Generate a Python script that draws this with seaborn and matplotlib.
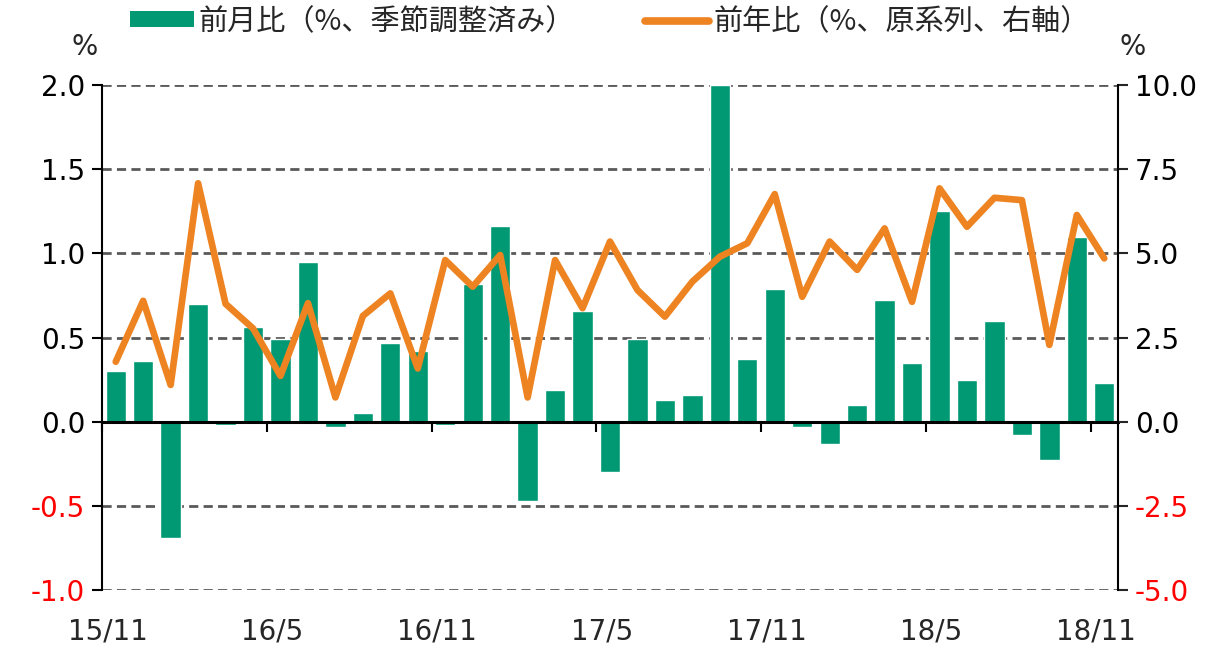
import matplotlib
matplotlib.use("Agg")
import matplotlib.pyplot as plt
from matplotlib.lines import Line2D
from matplotlib.patches import Patch
import pandas as pd
import seaborn as sns

# 月次データ（15/11〜18/11）
MONTHS = [
    "15/11", "15/12", "16/1", "16/2", "16/3", "16/4", "16/5", "16/6", "16/7",
    "16/8", "16/9", "16/10", "16/11", "16/12", "17/1", "17/2", "17/3", "17/4",
    "17/5", "17/6", "17/7", "17/8", "17/9", "17/10", "17/11", "17/12", "18/1",
    "18/2", "18/3", "18/4", "18/5", "18/6", "18/7", "18/8", "18/9", "18/10",
    "18/11",
]
# 前月比（%、季節調整済み）
MOM = [
    0.30, 0.36, -0.69, 0.70, -0.02, 0.56, 0.49, 0.95, -0.03, 0.05, 0.47,
    0.42, -0.02, 0.82, 1.16, -0.47, 0.19, 0.66, -0.30, 0.49, 0.13, 0.16,
    2.00, 0.37, 0.79, -0.03, -0.13, 0.10, 0.72, 0.35, 1.25, 0.25, 0.60,
    -0.08, -0.23, 1.10, 0.23,
]
# 前年比（%、原系列）
YOY = [
    1.78, 3.59, 1.09, 7.08, 3.50, 2.77, 1.36, 3.52, 0.72, 3.14, 3.81,
    1.58, 4.80, 4.01, 4.95, 0.72, 4.80, 3.37, 5.35, 3.91, 3.12, 4.16,
    4.90, 5.30, 6.76, 3.71, 5.35, 4.51, 5.74, 3.56, 6.93, 5.79, 6.65,
    6.58, 2.28, 6.14, 4.85,
]
TICK_MONTHS = ["15/11", "16/5", "16/11", "17/5", "17/11", "18/5", "18/11"]
LEFT_TICKS = [-1.0, -0.5, 0.0, 0.5, 1.0, 1.5, 2.0]
RIGHT_TICKS = [-5.0, -2.5, 0.0, 2.5, 5.0, 7.5, 10.0]

GREEN = "#009973"
ORANGE = "#EE8322"
GRIDC = "#595959"
RED = "#FF0000"
FS = 20

sns.set_theme(style="white")
plt.rcParams["font.family"] = ["DejaVu Sans", "Noto Sans CJK JP"]
JP = ["Noto Sans CJK JP", "DejaVu Sans"]

df = pd.DataFrame({"pos": range(len(MONTHS)), "month": MONTHS,
                   "mom": MOM, "yoy": YOY})

fig = plt.figure(figsize=(12.19, 6.51), dpi=100)
ax = fig.add_axes([102 / 1219, 1 - 590 / 651, 1016 / 1219, 505 / 651])

sns.barplot(data=df, x="pos", y="mom", color=GREEN, saturation=1,
            width=0.74, ax=ax, zorder=2)
ax.set_xlim(-0.5, len(MONTHS) - 0.5)
ax.set_ylim(-1.0, 2.0)
ax.set_axisbelow(True)

# 点線グリッド
ax.set_yticks(LEFT_TICKS)
ax.set_yticklabels([f"{v:.1f}" for v in LEFT_TICKS], fontsize=FS)
for v in LEFT_TICKS:
    if v != 0:
        ax.axhline(v, color=GRIDC, lw=2.0, ls=(0, (3.3, 1.9)), zorder=0)
ax.tick_params(axis="y", direction="out", length=7, width=1.5, left=True,
               colors="black", pad=5)
for lab, v in zip(ax.get_yticklabels(), LEFT_TICKS):
    lab.set_color(RED if v < 0 else "black")

# x軸：ゼロ線上の目盛
ax.spines["bottom"].set_position(("data", 0))
ax.spines["bottom"].set_linewidth(2.2)
ax.spines["bottom"].set_color("black")
ax.spines["bottom"].set_zorder(4)
ax.spines["top"].set_visible(False)
ax.spines["left"].set_color("black")
ax.spines["left"].set_linewidth(1.5)
ax.spines["right"].set_visible(False)
tick_pos = [MONTHS.index(m) - 0.5 for m in TICK_MONTHS]
ax.set_xticks(tick_pos)
ax.set_xticklabels([])
ax.tick_params(axis="x", direction="out", length=7, width=1.5, bottom=True,
               colors="black")
ax.set_xlabel("")
ax.set_ylabel("")

sec = ax.secondary_xaxis(0.0)
sec.set_xticks([p + 0.2 for p in tick_pos])
sec.set_xticklabels(TICK_MONTHS, fontsize=FS)
sec.tick_params(length=0, pad=20)
sec.spines["bottom"].set_visible(False)

# 右軸：前年比
ax2 = ax.twinx()
sns.lineplot(data=df, x="pos", y="yoy", color=ORANGE, lw=4.8, ax=ax2,
             zorder=5)
ax2.set_ylim(-5.0, 10.0)
ax2.set_yticks(RIGHT_TICKS)
ax2.set_yticklabels([f"{v:.1f}" for v in RIGHT_TICKS], fontsize=FS)
for lab, v in zip(ax2.get_yticklabels(), RIGHT_TICKS):
    lab.set_color(RED if v < 0 else "black")
ax2.tick_params(axis="y", direction="out", length=7, width=1.5, right=True,
                pad=5)
ax2.set_xlabel("")
ax2.set_ylabel("")
for s in ["top", "bottom", "left"]:
    ax2.spines[s].set_visible(False)
ax2.spines["right"].set_color("black")
ax2.spines["right"].set_linewidth(1.5)
ax2.grid(False)
ax.grid(False)

# 凡例
handles = [Patch(facecolor=GREEN, edgecolor="none"),
           Line2D([0], [0], color=ORANGE, lw=5.5, solid_capstyle="round")]
labels = ["前月比（%、季節調整済み）", "前年比（%、原系列、右軸）"]
fig.legend(handles, labels, loc="upper center", bbox_to_anchor=(0.5, 1.03),
           ncol=2, frameon=False, prop={"family": JP, "size": 21},
           handlelength=2.2, handleheight=0.45, handletextpad=0.15,
           columnspacing=2.4)

fig.text(85 / 1219, 1 - 47 / 651, "%", fontsize=FS, ha="center", va="center")
fig.text(1133 / 1219, 1 - 47 / 651, "%", fontsize=FS, ha="center", va="center")

fig.savefig("out.png", dpi=100)
